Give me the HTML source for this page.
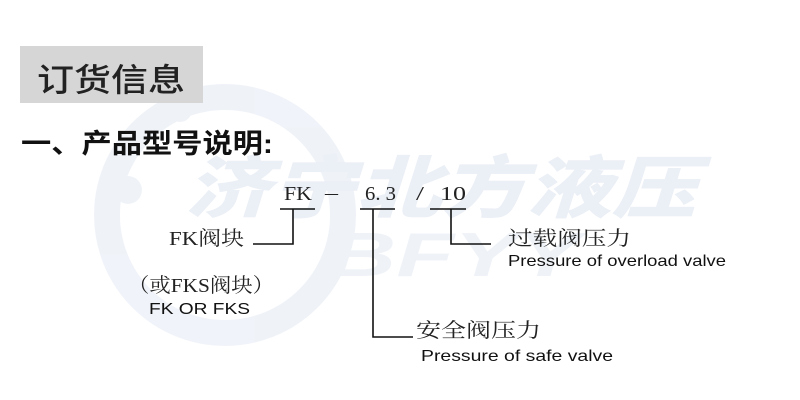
<!DOCTYPE html>
<html><head><meta charset="utf-8"><style>
html,body{margin:0;padding:0;background:#fff;}
svg{display:block}
</style></head><body>
<svg width="800" height="400" viewBox="0 0 800 400" xmlns="http://www.w3.org/2000/svg">
<rect width="800" height="400" fill="#fff"/>
<g opacity="0.9">
<circle cx="225" cy="215" r="118" fill="none" stroke="#eef2f8" stroke-width="26"/>
<circle cx="128" cy="190" r="14" fill="#eef2f8"/>
<circle cx="180" cy="110" r="12" fill="#eef2f8"/>
<text x="185" y="212" font-family="'Noto Sans CJK SC',sans-serif" font-weight="900" font-style="italic" font-size="68" fill="#e9eef6" textLength="512" lengthAdjust="spacingAndGlyphs">济宁北方液压</text>
<text x="328" y="276" font-family="'Liberation Sans',sans-serif" font-weight="bold" font-style="italic" font-size="62" fill="#eef2f8" textLength="252" lengthAdjust="spacingAndGlyphs">BFYY</text>
</g>
<rect x="20" y="46" width="183" height="57" fill="#d6d6d6"/>
<text x="37" y="91" font-family="'Liberation Sans','Noto Sans CJK SC',sans-serif" font-weight="500" font-size="32" fill="#222" textLength="148" lengthAdjust="spacingAndGlyphs">订货信息</text>
<text x="21" y="153" font-family="'Liberation Sans','Noto Sans CJK SC',sans-serif" font-weight="bold" font-size="27" fill="#111" textLength="252" lengthAdjust="spacingAndGlyphs">一、产品型号说明:</text>
<g font-family="'Liberation Serif',serif" fill="#222" font-size="20">
<text x="284" y="200" textLength="28" lengthAdjust="spacingAndGlyphs">FK</text>
<text x="325" y="199" textLength="13" lengthAdjust="spacingAndGlyphs">–</text>
<text x="365" y="200" textLength="31" lengthAdjust="spacingAndGlyphs">6. 3</text>
<text x="416" y="200" textLength="8" lengthAdjust="spacingAndGlyphs">/</text>
<text x="440" y="200" textLength="26" lengthAdjust="spacingAndGlyphs">10</text>
</g>
<g font-family="'Liberation Serif','Noto Serif CJK SC','Noto Sans CJK SC',serif" fill="#222" font-size="20">
<text x="169" y="245" textLength="75" lengthAdjust="spacingAndGlyphs">FK阀块</text>
<text x="508" y="245" textLength="123" lengthAdjust="spacingAndGlyphs">过载阀压力</text>
<text x="128" y="292" textLength="146" lengthAdjust="spacingAndGlyphs">（或FKS阀块）</text>
<text x="416" y="337" textLength="125" lengthAdjust="spacingAndGlyphs">安全阀压力</text>
</g>
<g font-family="'Liberation Sans',sans-serif" fill="#111" font-size="16">
<text x="508" y="266" textLength="218" lengthAdjust="spacingAndGlyphs">Pressure of overload valve</text>
<text x="149" y="314" textLength="101" lengthAdjust="spacingAndGlyphs">FK OR FKS</text>
<text x="421" y="361" textLength="192" lengthAdjust="spacingAndGlyphs">Pressure of safe valve</text>
</g>
<g stroke="#111" stroke-width="1.6" fill="none">
<line x1="280" y1="209" x2="315" y2="209"/>
<line x1="360" y1="209" x2="395" y2="209"/>
<line x1="430" y1="209" x2="466" y2="209"/>
<polyline points="293,209 293,244 253,244"/>
<polyline points="373,209 373,337 413,337"/>
<polyline points="451,209 451,244 491,244"/>
</g>
</svg>
</body></html>
